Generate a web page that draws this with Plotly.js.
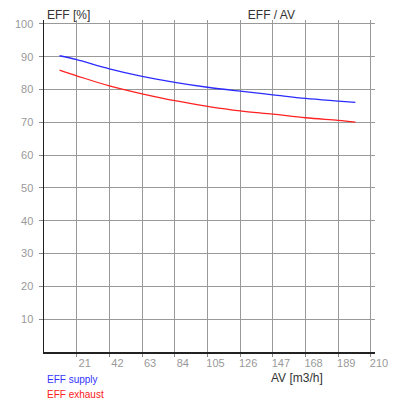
<!DOCTYPE html>
<html>
<head>
<meta charset="utf-8">
<script src="https://cdn.plot.ly/plotly-3.0.1.min.js"></script>
<style>
  html, body { margin: 0; padding: 0; background: #fff; }
  #chart { width: 400px; height: 400px; }
</style>
</head>
<body>
<div id="chart"></div>
<script>
// air volume [m3/h]
const airVolume = [10, 21, 42, 63, 84, 105, 126, 147, 168, 189, 200];
// efficiency [%]
const effSupply = [90.3, 89.1, 86.3, 84.0, 82.2, 80.7, 79.5, 78.4, 77.3, 76.5, 76.1];
const effExhaust = [85.9, 84.2, 81.1, 78.7, 76.6, 74.9, 73.5, 72.5, 71.4, 70.6, 70.1];
const xTicks = [21, 42, 63, 84, 105, 126, 147, 168, 189, 210];
const yTicks = [10, 20, 30, 40, 50, 60, 70, 80, 90, 100];

const font = 'Liberation Sans, Arial, sans-serif';

const supply = {
    x: airVolume,
    y: effSupply,
    mode: 'lines',
    type: 'scatter',
    name: 'EFF supply',
    line: { color: '#2b2bff', width: 1.3, shape: 'spline' }
};
const exhaust = {
    x: airVolume,
    y: effExhaust,
    mode: 'lines',
    type: 'scatter',
    name: 'EFF exhaust',
    line: { color: '#ff2020', width: 1.3, shape: 'spline' }
};

const layout = {
    width: 400,
    height: 400,
    margin: { l: 44, r: 25, t: 20, b: 48 },
    paper_bgcolor: '#fff',
    plot_bgcolor: '#fff',
    showlegend: false,
    font: { family: font },
    title: {
        text: 'EFF / AV',
        font: { size: 12, color: '#333' },
        xref: 'paper',
        x: 0.687,
        xanchor: 'center',
        yref: 'container',
        y: 1 - 15 / 400,
        yanchor: 'middle'
    },
    xaxis: {
        range: [0, 212.6],
        tickmode: 'array',
        tickvals: xTicks,
        ticktext: xTicks.map(String),
        ticks: 'outside',
        ticklen: 3,
        tickcolor: '#888',
        ticklabelshift: 8,
        ticklabelstandoff: -3,
        tickfont: { size: 11, color: '#999' },
        showgrid: true,
        gridcolor: '#999',
        gridwidth: 1,
        zeroline: false,
        showline: true,
        linecolor: '#222',
        linewidth: 1.5
    },
    yaxis: {
        range: [0, 101.2],
        tickmode: 'array',
        tickvals: yTicks,
        ticktext: yTicks.map(String),
        ticks: 'outside',
        ticklen: 4,
        tickcolor: '#888',
        ticklabelstandoff: 3,
        tickfont: { size: 11, color: '#999' },
        showgrid: true,
        gridcolor: '#999',
        gridwidth: 1,
        zeroline: false,
        showline: true,
        linecolor: '#222',
        linewidth: 1.5
    },
    annotations: [
        {
            text: 'EFF [%]', xref: 'paper', yref: 'paper',
            x: 0, y: 1, xshift: 1, yshift: 5,
            xanchor: 'left', yanchor: 'middle', showarrow: false,
            font: { size: 12, color: '#333' }
        },
        {
            text: 'AV [m3/h]', xref: 'paper', yref: 'paper',
            x: (297 - 44) / 331, y: 0, yshift: -17,
            xanchor: 'center', yanchor: 'top', showarrow: false,
            font: { size: 12, color: '#333' }
        },
        {
            text: 'EFF supply', xref: 'paper', yref: 'paper',
            x: 0, y: 0, xshift: 1, yshift: -20,
            xanchor: 'left', yanchor: 'top', showarrow: false,
            font: { size: 10, color: '#3333ff' }
        },
        {
            text: 'EFF exhaust', xref: 'paper', yref: 'paper',
            x: 0, y: 0, xshift: 1, yshift: -35,
            xanchor: 'left', yanchor: 'top', showarrow: false,
            font: { size: 10, color: '#ff2020' }
        }
    ]
};

Plotly.newPlot('chart', [supply, exhaust], layout, { displayModeBar: false, staticPlot: true });
</script>
</body>
</html>
